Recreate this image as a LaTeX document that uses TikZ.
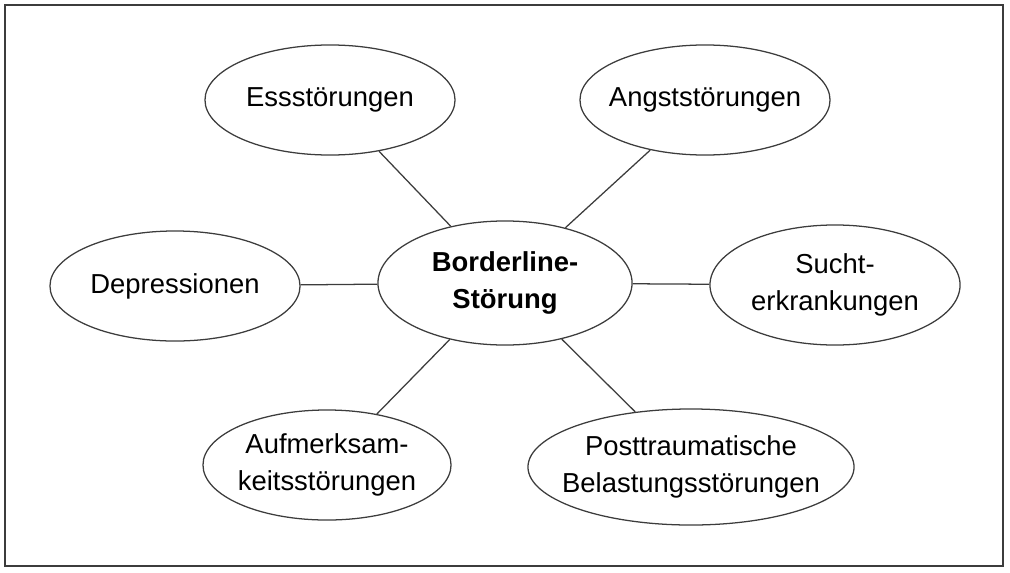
\documentclass[tikz,border=0pt]{standalone}
\usepackage{fontspec}
\setmainfont{Liberation Sans}
\usepackage{tikz}
\usetikzlibrary{positioning,shapes.geometric}
\definecolor{cLine}{RGB}{60,60,60}

\begin{document}
\begin{tikzpicture}[x=0.025cm,y=-0.025cm,
   topic/.style={draw=cLine,ellipse,line width=0.9pt,minimum width=6.25cm,minimum height=2.75cm,
     inner xsep=-3cm,inner ysep=-1cm,align=center,font=\fontsize{19.5}{26}\selectfont},
   core/.style={topic,minimum width=6.35cm,minimum height=3.1cm,font=\fontsize{19.5}{26}\selectfont\bfseries},
   link/.style={draw=cLine,line width=0.9pt}]
  \useasboundingbox (0,0) rectangle (1010,572);
  \draw[cLine,line width=1.1pt] (5,5) rectangle (1003,566);
  \node[core] (B) at (505,283) {Borderline-\\Störung};
  \node[topic] (E) at (330,100) {Essstörungen};
  \node[topic] (A) at (705,100) {Angststörungen};
  \node[topic] (D) at (175,286) {Depressionen};
  \node[topic,minimum height=3cm] (S) at (835,285) {Sucht-\\erkrankungen};
  \node[topic,minimum width=6.2cm] (M) at (327,465) {Aufmerksam-\\keitsstörungen};
  \node[topic,minimum width=8.15cm,minimum height=2.9cm] (P) at (691,467) {Posttraumatische\\Belastungsstörungen};
  \foreach \t in {E,A,D,S,M,P}
    \draw[link] (B)--(\t);
\end{tikzpicture}
\end{document}
